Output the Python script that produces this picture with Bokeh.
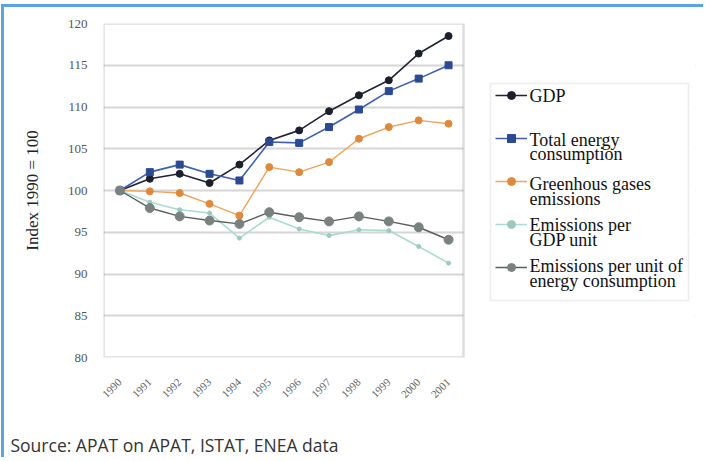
import math
from bokeh.plotting import figure
from bokeh.models import (Range1d, FixedTicker, ColumnDataSource, Legend, LegendItem, Title,
                          Label, BoxAnnotation)
from bokeh.embed import file_html
from bokeh.resources import INLINE

years = [1990, 1991, 1992, 1993, 1994, 1995, 1996, 1997, 1998, 1999, 2000, 2001]
gdp = [100, 101.4, 102.0, 100.9, 103.1, 106.0, 107.2, 109.5, 111.4, 113.2, 116.4, 118.5]
energy = [100, 102.2, 103.1, 102.0, 101.2, 105.8, 105.7, 107.6, 109.7, 111.9, 113.4, 115.0]
ghg = [100, 99.9, 99.7, 98.4, 97.0, 102.8, 102.2, 103.4, 106.2, 107.6, 108.4, 108.0]
per_gdp = [100, 98.6, 97.7, 97.3, 94.3, 96.8, 95.4, 94.6, 95.3, 95.2, 93.3, 91.3]
per_energy = [100, 97.9, 96.9, 96.4, 96.0, 97.4, 96.8, 96.3, 96.9, 96.3, 95.6, 94.1]
y_ticks = [80, 85, 90, 95, 100, 105, 110, 115, 120]

series_names = ["GDP", "Total energy consumption", "Greenhous gases emissions",
                "Emissions per GDP unit", "Emissions per unit of energy consumption"]
legend_lines = [["GDP"], ["Total energy", "consumption"], ["Greenhous gases", "emissions"],
                ["Emissions per", "GDP unit"], ["Emissions per unit of", "energy consumption"]]
source_note = "Source: APAT on APAT, ISTAT, ENEA data"

SERIF = "Liberation Serif"
BLUE = "#5ba4de"

# page layout (pixels)
OX, OY = 4, 7                     # canvas origin on the page (after CSS margin + border)
W, H = 702, 453
BOX_L, BOX_T, BOX_R, BOX_B = 103, 23, 463, 357   # main plot box on page
FRAME_R = 695                                   # frame extends right to hold the legend
X0, X1 = 1989.45, 2001.5                        # x extent of the plot box
px_per_year = (BOX_R - BOX_L) / (X1 - X0)
x_end = X1 + (FRAME_R - BOX_R) / px_per_year

p = figure(width=W, height=H, output_backend="svg", toolbar_location=None,
           x_range=Range1d(X0, x_end), y_range=Range1d(80, 120),
           min_border_left=BOX_L - OX, min_border_top=BOX_T - OY,
           min_border_right=W - (FRAME_R - OX), min_border_bottom=H - (BOX_B - OY),
           margin=(4, 0, 0, 1),
           styles={"border-top": "3px solid " + BLUE, "border-left": "3px solid " + BLUE})
p.background_fill_color = "white"
p.border_fill_color = "white"
p.outline_line_color = None

# x axis
p.xaxis.ticker = FixedTicker(ticks=years)
p.xaxis.major_label_orientation = math.pi / 4
p.xaxis.axis_line_color = None
p.xaxis.major_tick_line_color = None
p.xaxis.minor_tick_line_color = None
p.xaxis.major_label_text_font = SERIF
p.xaxis.major_label_text_font_size = "11px"
p.xaxis.major_label_text_color = "#5e5e5e"
p.xaxis.major_label_standoff = 17
p.xaxis.axis_label = " "          # blank spacer between the year labels and the source note
p.xaxis.axis_label_text_font_size = "10px"
p.xaxis.axis_label_standoff = 12
p.xgrid.visible = False

# y axis
p.yaxis.ticker = FixedTicker(ticks=y_ticks)
p.ygrid.ticker = FixedTicker(ticks=y_ticks)
p.ygrid.grid_line_color = "#d6d6d6"
p.ygrid.grid_line_width = 2
p.yaxis.axis_line_color = None
p.yaxis.major_tick_line_color = None
p.yaxis.minor_tick_line_color = None
p.yaxis.major_label_text_font = SERIF
p.yaxis.major_label_text_font_size = "13px"
p.yaxis.major_label_text_color = "#555555"
p.yaxis.major_label_standoff = 10
p.yaxis.axis_label = "Index 1990 = 100"
p.yaxis.axis_label_text_font = SERIF
p.yaxis.axis_label_text_font_style = "normal"
p.yaxis.axis_label_text_font_size = "17px"
p.yaxis.axis_label_text_color = "#222222"
p.yaxis.axis_label_standoff = 23

# hide the grid right of the plot box, and draw the plot box outline
p.add_layout(BoxAnnotation(left=X1, fill_color="white", fill_alpha=1.0, line_color=None,
                           level="underlay"))
p.add_layout(BoxAnnotation(right=X1, fill_alpha=0, line_color="#8e8e8e", line_width=2.5,
                           level="underlay"))

styles = [
    # line color, marker color, marker, size, line width
    ("#1f2333", "#1c1f2c", "circle", 7, 1.6),
    ("#3d5fae", "#2b4a93", "square", 7, 1.6),
    ("#f2a35a", "#e0893c", "circle", 7, 1.4),
    ("#a9dcd1", "#9cc9c0", "circle", 4, 1.6),
    ("#5a5f5e", "#7a8280", "circle", 9, 1.4),
]
data = [gdp, energy, ghg, per_gdp, per_energy]
items = []
for name, ys, (lc, mc, mk, sz, lw) in zip(series_names, data, styles):
    src = ColumnDataSource(dict(x=years, y=ys))
    r1 = p.line("x", "y", source=src, line_color=lc, line_width=lw)
    r2 = p.scatter("x", "y", source=src, marker=mk, size=sz, fill_color=mc, line_color=mc)
    items.append(LegendItem(label=" ", renderers=[r1, r2]))

# legend frame
LEG_L, LEG_T, LEG_R, LEG_B = 490, 83, 688, 300
p.add_layout(BoxAnnotation(left=LEG_L - BOX_L, right=LEG_R - BOX_L,
                           top=BOX_B - LEG_T, bottom=BOX_B - LEG_B,
                           left_units="screen", right_units="screen",
                           top_units="screen", bottom_units="screen",
                           fill_color="white", fill_alpha=1.0,
                           line_color="#c4c4c4", line_width=1.5))

# legend glyphs (texts are drawn as labels so that they can wrap)
GLYPH_L, FIRST_CY, PITCH = 495, 95, 43
leg = Legend(items=items, location=(GLYPH_L - BOX_L, BOX_B - (FIRST_CY - 10 + 4 * PITCH + 20)),
             glyph_width=32, glyph_height=20, label_height=20, label_width=0,
             label_standoff=0, spacing=PITCH - 20, padding=0, margin=0,
             border_line_color=None, background_fill_alpha=0,
             label_text_font_size="1px")
p.add_layout(leg, "center")

centers = [[95], [139, 153], [183, 198], [224, 239], [265, 280]]
for lines, cys in zip(legend_lines, centers):
    for t, cy in zip(lines, cys):
        p.add_layout(Label(x=529 - BOX_L, y=BOX_B - cy, x_units="screen", y_units="screen",
                           text=t, text_font=SERIF, text_font_size="18px",
                           text_color="#111111", text_baseline="middle", text_align="left"))

# source note
p.add_layout(Title(text=source_note, align="left", offset=10 - BOX_L,
                   text_font="Open Sans", text_font_size="17.5px", text_font_style="normal",
                   text_color="#333333", standoff=0), "below")

open("out.html", "w").write(file_html(p, INLINE))
